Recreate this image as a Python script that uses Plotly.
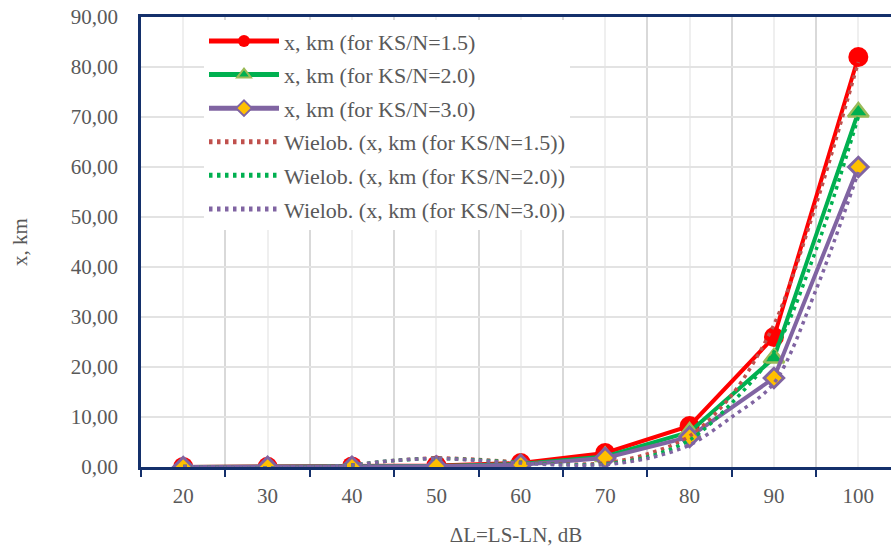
import plotly.graph_objects as go

# Level difference ΔL (dB) and distance x (km) for three KS/N ratios
delta_l = [20, 30, 40, 50, 60, 70, 80, 90, 100]
x_ks15 = [0.02, 0.05, 0.12, 0.30, 0.80, 2.80, 8.20, 26.00, 82.00]
x_ks20 = [0.01, 0.03, 0.08, 0.20, 0.60, 2.10, 7.00, 21.80, 71.00]
x_ks30 = [0.00, 0.02, 0.05, 0.15, 0.45, 1.80, 6.00, 17.80, 60.00]

# Polynomial trend curves ("Wielob."), sampled every 5 dB
trend_dl = [20, 25, 30, 35, 40, 45, 50, 55, 60, 65, 70, 75, 80, 85, 90, 95, 100]
trend_ks15 = [0.1, -0.1, -0.2, 0.0, 0.4, 1.3, 1.8, 1.5, 1.0, 0.6, 0.8, 2.6, 6.2, 14.4, 28.5, 52.5, 81.0]
trend_ks20 = [0.1, -0.1, -0.2, 0.0, 0.4, 1.3, 1.7, 1.4, 0.9, 0.5, 0.6, 2.0, 5.4, 12.8, 23.0, 43.5, 70.0]
trend_ks30 = [0.1, -0.1, -0.2, 0.0, 0.4, 1.3, 1.7, 1.3, 0.8, 0.4, 0.5, 1.7, 4.4, 10.0, 16.8, 35.5, 59.0]

y_ticks = [0, 10, 20, 30, 40, 50, 60, 70, 80, 90]
x_ticks = delta_l
x_bounds = [15, 25, 35, 45, 55, 65, 75, 85, 95]

FONT = "Liberation Serif"
NAVY = "#14306b"
GREY_TXT = "#595959"

fig = go.Figure()

fig.add_trace(go.Scatter(
    x=delta_l, y=x_ks15, mode="lines+markers", name="x, km (for KS/N=1.5)",
    line=dict(color="#ff0000", width=4),
    marker=dict(symbol="circle", size=20, color="#ff0000"),
    legendgroup="a",
))
fig.add_trace(go.Scatter(
    x=delta_l, y=x_ks20, mode="lines+markers", name="x, km (for KS/N=2.0)",
    line=dict(color="#00b050", width=4),
    marker=dict(symbol="triangle-up", size=18, color="#00b050",
                line=dict(color="#9bbb59", width=2.5)),
    legendgroup="b",
))
fig.add_trace(go.Scatter(
    x=delta_l, y=x_ks30, mode="lines+markers", name="x, km (for KS/N=3.0)",
    line=dict(color="#8064a2", width=4),
    marker=dict(symbol="diamond", size=15, color="#ffc000",
                line=dict(color="#8064a2", width=3)),
    legendgroup="c",
))

trend_specs = [
    (trend_ks15, "#c0504d", "Wielob. (x, km (for KS/N=1.5))", "d"),
    (trend_ks20, "#00b050", "Wielob. (x, km (for KS/N=2.0))", "e"),
    (trend_ks30, "#8064a2", "Wielob. (x, km (for KS/N=3.0))", "f"),
]
for vals, col, label, grp in trend_specs:
    fig.add_trace(go.Scatter(
        x=trend_dl, y=vals, mode="lines", name=label,
        line=dict(color=col, width=3.5, dash="3.5px,4.5px", shape="spline", smoothing=0.9),
        legendgroup=grp,
    ))

fig.update_layout(
    width=891, height=547,
    margin=dict(l=141, r=0, t=17, b=80),
    paper_bgcolor="white", plot_bgcolor="white",
    separators=", ",
    font=dict(family=FONT, size=20, color=GREY_TXT),
    showlegend=True,
    legend=dict(
        x=0.084, y=0.993, xanchor="left", yanchor="top",
        bgcolor="white", borderwidth=0,
        font=dict(family=FONT, size=22, color=GREY_TXT),
        traceorder="grouped", tracegroupgap=2,
        itemwidth=70, itemsizing="constant",
    ),
)

fig.update_xaxes(
    range=[15, 103.87],
    tickmode="array", tickvals=x_ticks, ticktext=[str(v) for v in x_ticks],
    ticks="", ticklabelstandoff=8,
    showgrid=True, gridcolor="#efefef", gridwidth=1.5,
    showline=True, linecolor=NAVY, linewidth=2.5, mirror=True,
    zeroline=False,
    tickfont=dict(family=FONT, size=21, color=GREY_TXT),
    minor=dict(tickmode="array", tickvals=x_bounds, ticks="outside", ticklen=7,
               tickcolor=NAVY, tickwidth=2, showgrid=True, gridcolor="#d9d9d9", gridwidth=2),
    title=dict(text="ΔL=LS-LN, dB", font=dict(family=FONT, size=21, color=GREY_TXT), standoff=22),
)

fig.update_yaxes(
    range=[0, 90],
    tickmode="array", tickvals=y_ticks, tickformat=".2f",
    ticks="", ticklabelstandoff=16,
    showgrid=True, gridcolor="#e3e3e3", gridwidth=1.5,
    showline=True, linecolor=NAVY, linewidth=2.5, mirror=False,
    zeroline=False,
    tickfont=dict(family=FONT, size=21, color=GREY_TXT),
    title=dict(text="x, km", font=dict(family=FONT, size=21, color=GREY_TXT), standoff=38),
)

fig.write_html("out.html")
